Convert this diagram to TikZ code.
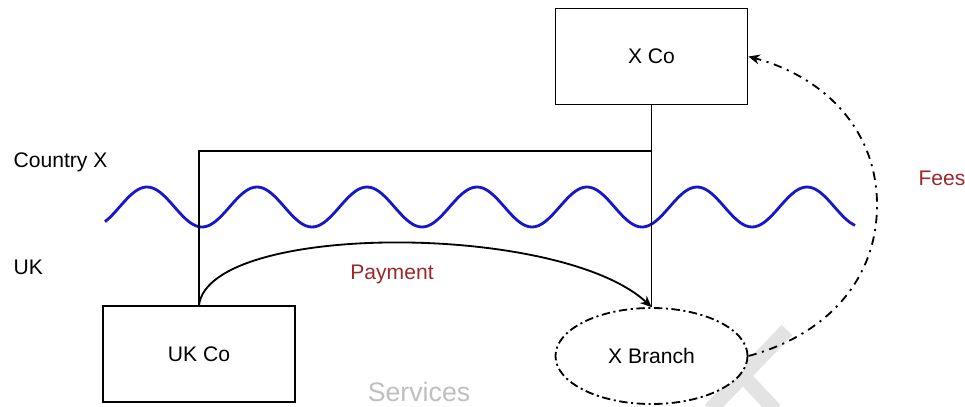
\documentclass[tikz,border=0pt]{standalone}
\usepackage{fontspec}
\setmainfont{Liberation Sans}
\usetikzlibrary{shapes.geometric, arrows.meta}
\definecolor{labelred}{RGB}{160,38,45}
\definecolor{waveblue}{RGB}{22,22,205}

\begin{document}
\begin{tikzpicture}[x=0.025cm, y=-0.025cm, line width=1.3pt, >={Stealth[length=8pt, width=7pt]},
    txt/.style={font=\fontsize{15}{18}\selectfont},
    company/.style={draw, fill=white, rectangle, minimum width=4.8cm, minimum height=2.4cm, txt},
    branchnode/.style={draw, fill=white, ellipse, minimum width=4.8cm, minimum height=2.4cm, txt, dash pattern=on 6pt off 2.5pt on 1.5pt off 2.5pt},
    feesline/.style={dash pattern=on 6pt off 4pt on 1.5pt off 4pt}]
    \useasboundingbox (0,0) rectangle (965,407);
    % Border between the two countries
    \draw[waveblue, line width=2pt] plot[domain=105:855, samples=150, smooth] (\x, {207 - 20*sin(3.2727*(\x-119.5))});
    \node[txt, anchor=west] (countryx) at (8,162) {Country X};
    \node[txt, anchor=west] (uk) at (8,267) {UK};
    % Watermark behind the branch
    \draw[gray!22, line width=10.5pt] (787,330) -- (710,410);
    \draw[gray!22, line width=10.5pt] (700,330) -- (775,410);
    % Companies
    \node[company] (xco) at (651.5,56.5) {X Co};
    \node[company] (ukco) at (199,354) {UK Co};
    \node[branchnode] (branch) at (651.5,356) {X Branch};
    % Ownership lines
    \coordinate (ownjoin) at (651.5,151);
    \draw (xco.south) -- (branch.north);
    \draw (ukco.north) |- (ownjoin);
    % Payment
    \draw[->] (ukco.north) .. controls (210,222) and (560,222) .. (branch.north);
    \node[txt, text=labelred] (payment) at (392,274) {Payment};
    % Fees
    \coordinate (feesturn) at (877,205);
    \draw[feesline, ->] (branch.east) to[out=15,in=-90] (feesturn) to[out=90,in=-15] (xco.east);
    \node[txt, text=labelred] (fees) at (942,178) {Fees};
    % Services
    \node[font=\fontsize{19}{22}\selectfont, text=gray!50] (services) at (419,392) {Services};
\end{tikzpicture}
\end{document}
